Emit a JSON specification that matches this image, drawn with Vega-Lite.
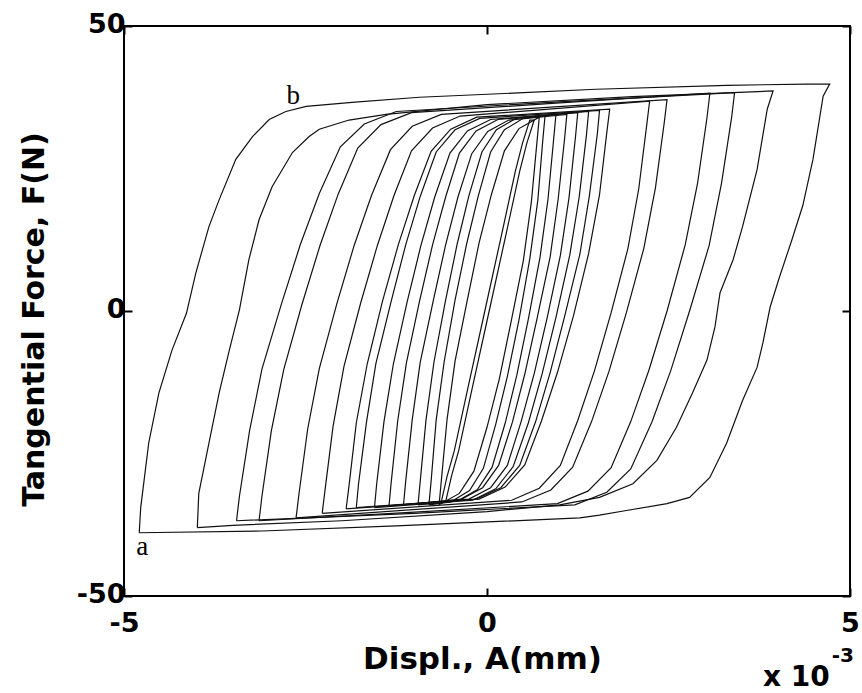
{
"$schema": "https://vega.github.io/schema/vega-lite/v6.json",
"width": 726, "height": 570,
"autosize": {"type": "none"},
"padding": {"left": 124, "top": 26, "right": 12, "bottom": 97},
"background": "white",
"config": {"view": {"stroke": "black", "strokeWidth": 2}},
"datasets": {
"loops": [
{"loop":1,"x":-4.79,"F":-38.9},{"loop":1,"x":-4.77,"F":-34.5},{"loop":1,"x":-4.66,"F":-23.2},{"loop":1,"x":-4.52,"F":-14.4},{"loop":1,"x":-4.34,"F":-6.9},{"loop":1,"x":-4.14,"F":-0.4},{"loop":1,"x":-4.01,"F":6.7},{"loop":1,"x":-3.83,"F":14.8},{"loop":1,"x":-3.69,"F":19.5},{"loop":1,"x":-3.46,"F":26.6},{"loop":1,"x":-3.23,"F":30.6},{"loop":1,"x":-3.0,"F":33.6},{"loop":1,"x":-2.77,"F":35.0},{"loop":1,"x":-2.49,"F":35.9},{"loop":1,"x":-1.86,"F":36.6},{"loop":1,"x":-0.93,"F":37.5},{"loop":1,"x":0.5,"F":38.3},{"loop":1,"x":1.5,"F":38.9},{"loop":1,"x":3.3,"F":39.6},{"loop":1,"x":4.4,"F":39.8},
{"loop":1,"x":4.72,"F":39.8},{"loop":1,"x":4.63,"F":37.7},{"loop":1,"x":4.49,"F":26.6},{"loop":1,"x":4.35,"F":18.5},{"loop":1,"x":4.2,"F":12.5},{"loop":1,"x":4.03,"F":6.0},{"loop":1,"x":3.9,"F":0.7},{"loop":1,"x":3.8,"F":-5.6},{"loop":1,"x":3.72,"F":-9.9},{"loop":1,"x":3.52,"F":-15.7},{"loop":1,"x":3.3,"F":-23.2},{"loop":1,"x":3.07,"F":-29.2},{"loop":1,"x":2.79,"F":-32.7},{"loop":1,"x":2.48,"F":-33.8},{"loop":1,"x":1.92,"F":-35.0},{"loop":1,"x":1.55,"F":-35.8},{"loop":1,"x":1.28,"F":-36.3},{"loop":1,"x":-1.25,"F":-37.7},{"loop":1,"x":-3.1,"F":-38.6},{"loop":1,"x":-4.79,"F":-38.9},
{"loop":2,"x":-3.99,"F":-38.0},{"loop":2,"x":-3.97,"F":-32.0},{"loop":2,"x":-3.83,"F":-23.2},{"loop":2,"x":-3.69,"F":-14.4},{"loop":2,"x":-3.55,"F":-6.9},{"loop":2,"x":-3.41,"F":0.2},{"loop":2,"x":-3.28,"F":9.0},{"loop":2,"x":-3.14,"F":16.0},{"loop":2,"x":-2.96,"F":21.8},{"loop":2,"x":-2.68,"F":27.8},{"loop":2,"x":-2.45,"F":30.6},{"loop":2,"x":-2.31,"F":31.9},{"loop":2,"x":-1.9,"F":33.5},{"loop":2,"x":-1.39,"F":34.5},{"loop":2,"x":0,"F":36.2},{"loop":2,"x":2.0,"F":37.6},
{"loop":2,"x":3.94,"F":38.6},{"loop":2,"x":3.86,"F":35.4},{"loop":2,"x":3.72,"F":24.8},{"loop":2,"x":3.52,"F":14.8},{"loop":2,"x":3.39,"F":9.0},{"loop":2,"x":3.21,"F":3.2},{"loop":2,"x":3.14,"F":-2.8},{"loop":2,"x":3.03,"F":-8.6},{"loop":2,"x":2.83,"F":-14.4},{"loop":2,"x":2.61,"F":-20.4},{"loop":2,"x":2.34,"F":-26.2},{"loop":2,"x":2.01,"F":-30.3},{"loop":2,"x":1.55,"F":-32.7},{"loop":2,"x":1.0,"F":-34.0},{"loop":2,"x":0,"F":-35.2},{"loop":2,"x":-2.0,"F":-36.8},{"loop":2,"x":-3.5,"F":-37.6},{"loop":2,"x":-3.99,"F":-38.0},
{"loop":3,"x":-3.45,"F":-36.8},{"loop":3,"x":-3.41,"F":-32.5},{"loop":3,"x":-3.27,"F":-21.0},{"loop":3,"x":-3.1,"F":-10.2},{"loop":3,"x":-2.83,"F":1.3},{"loop":3,"x":-2.57,"F":11.7},{"loop":3,"x":-2.31,"F":20.6},{"loop":3,"x":-2.02,"F":28.8},{"loop":3,"x":-1.69,"F":32.8},{"loop":3,"x":-1.25,"F":35.0},{"loop":3,"x":1.0,"F":36.7},
{"loop":3,"x":3.41,"F":38.3},{"loop":3,"x":3.37,"F":34.0},{"loop":3,"x":3.23,"F":22.4},{"loop":3,"x":3.06,"F":11.5},{"loop":3,"x":2.79,"F":0.0},{"loop":3,"x":2.53,"F":-10.5},{"loop":3,"x":2.27,"F":-19.5},{"loop":3,"x":1.98,"F":-27.7},{"loop":3,"x":1.65,"F":-31.8},{"loop":3,"x":1.21,"F":-34.0},{"loop":3,"x":-1.0,"F":-35.5},{"loop":3,"x":-3.45,"F":-36.8},
{"loop":4,"x":-3.14,"F":-36.8},{"loop":4,"x":-3.1,"F":-32.5},{"loop":4,"x":-2.97,"F":-21.0},{"loop":4,"x":-2.8,"F":-10.3},{"loop":4,"x":-2.55,"F":1.1},{"loop":4,"x":-2.3,"F":11.5},{"loop":4,"x":-2.05,"F":20.5},{"loop":4,"x":-1.78,"F":28.6},{"loop":4,"x":-1.46,"F":32.7},{"loop":4,"x":-1.04,"F":34.8},{"loop":4,"x":1.0,"F":36.5},
{"loop":4,"x":3.07,"F":38.2},{"loop":4,"x":3.03,"F":33.9},{"loop":4,"x":2.9,"F":22.4},{"loop":4,"x":2.73,"F":11.6},{"loop":4,"x":2.48,"F":0.0},{"loop":4,"x":2.23,"F":-10.4},{"loop":4,"x":1.98,"F":-19.4},{"loop":4,"x":1.71,"F":-27.5},{"loop":4,"x":1.39,"F":-31.6},{"loop":4,"x":0.97,"F":-33.8},{"loop":4,"x":-1.0,"F":-35.3},{"loop":4,"x":-3.14,"F":-36.8},
{"loop":5,"x":-2.63,"F":-36.3},{"loop":5,"x":-2.59,"F":-32.1},{"loop":5,"x":-2.47,"F":-20.7},{"loop":5,"x":-2.31,"F":-10.1},{"loop":5,"x":-2.07,"F":1.2},{"loop":5,"x":-1.83,"F":11.5},{"loop":5,"x":-1.59,"F":20.3},{"loop":5,"x":-1.33,"F":28.3},{"loop":5,"x":-1.03,"F":32.4},{"loop":5,"x":-0.63,"F":34.5},
{"loop":5,"x":2.48,"F":37.1},{"loop":5,"x":2.44,"F":32.9},{"loop":5,"x":2.32,"F":21.6},{"loop":5,"x":2.16,"F":11.0},{"loop":5,"x":1.92,"F":-0.3},{"loop":5,"x":1.68,"F":-10.6},{"loop":5,"x":1.44,"F":-19.4},{"loop":5,"x":1.18,"F":-27.4},{"loop":5,"x":0.88,"F":-31.4},{"loop":5,"x":0.48,"F":-33.5},{"loop":5,"x":-2.63,"F":-36.3},
{"loop":6,"x":-2.27,"F":-35.5},{"loop":6,"x":-2.23,"F":-31.3},{"loop":6,"x":-2.12,"F":-20.2},{"loop":6,"x":-1.97,"F":-9.7},{"loop":6,"x":-1.74,"F":1.4},{"loop":6,"x":-1.51,"F":11.5},{"loop":6,"x":-1.28,"F":20.3},{"loop":6,"x":-1.04,"F":28.1},{"loop":6,"x":-0.75,"F":32.1},{"loop":6,"x":-0.37,"F":34.2},
{"loop":6,"x":2.24,"F":36.8},{"loop":6,"x":2.2,"F":32.6},{"loop":6,"x":2.09,"F":21.4},{"loop":6,"x":1.94,"F":10.9},{"loop":6,"x":1.71,"F":-0.3},{"loop":6,"x":1.48,"F":-10.5},{"loop":6,"x":1.25,"F":-19.2},{"loop":6,"x":1.01,"F":-27.1},{"loop":6,"x":0.72,"F":-31.1},{"loop":6,"x":0.34,"F":-33.2},{"loop":6,"x":-2.27,"F":-35.5},
{"loop":7,"x":-1.94,"F":-34.7},{"loop":7,"x":-1.9,"F":-30.6},{"loop":7,"x":-1.8,"F":-19.6},{"loop":7,"x":-1.65,"F":-9.3},{"loop":7,"x":-1.44,"F":1.7},{"loop":7,"x":-1.22,"F":11.7},{"loop":7,"x":-1.0,"F":20.3},{"loop":7,"x":-0.77,"F":28.0},{"loop":7,"x":-0.5,"F":31.9},{"loop":7,"x":-0.14,"F":34.0},
{"loop":7,"x":1.69,"F":35.4},{"loop":7,"x":1.65,"F":31.3},{"loop":7,"x":1.55,"F":20.4},{"loop":7,"x":1.4,"F":10.1},{"loop":7,"x":1.19,"F":-0.9},{"loop":7,"x":0.97,"F":-10.8},{"loop":7,"x":0.75,"F":-19.3},{"loop":7,"x":0.52,"F":-27.0},{"loop":7,"x":0.25,"F":-30.9},{"loop":7,"x":-0.11,"F":-33.0},{"loop":7,"x":-1.94,"F":-34.7},
{"loop":8,"x":-1.8,"F":-34.5},{"loop":8,"x":-1.77,"F":-30.4},{"loop":8,"x":-1.66,"F":-19.5},{"loop":8,"x":-1.53,"F":-9.2},{"loop":8,"x":-1.32,"F":1.7},{"loop":8,"x":-1.12,"F":11.6},{"loop":8,"x":-0.92,"F":20.1},{"loop":8,"x":-0.7,"F":27.9},{"loop":8,"x":-0.44,"F":31.8},{"loop":8,"x":-0.1,"F":33.8},
{"loop":8,"x":1.55,"F":35.2},{"loop":8,"x":1.52,"F":31.1},{"loop":8,"x":1.41,"F":20.2},{"loop":8,"x":1.28,"F":10.0},{"loop":8,"x":1.07,"F":-0.9},{"loop":8,"x":0.87,"F":-10.8},{"loop":8,"x":0.67,"F":-19.4},{"loop":8,"x":0.45,"F":-27.1},{"loop":8,"x":0.19,"F":-31.0},{"loop":8,"x":-0.15,"F":-33.0},{"loop":8,"x":-1.8,"F":-34.5},
{"loop":9,"x":-1.55,"F":-34.5},{"loop":9,"x":-1.52,"F":-30.4},{"loop":9,"x":-1.42,"F":-19.5},{"loop":9,"x":-1.29,"F":-9.3},{"loop":9,"x":-1.1,"F":1.6},{"loop":9,"x":-0.91,"F":11.5},{"loop":9,"x":-0.72,"F":20.0},{"loop":9,"x":-0.51,"F":27.7},{"loop":9,"x":-0.27,"F":31.6},{"loop":9,"x":0.05,"F":33.6},
{"loop":9,"x":1.4,"F":35.0},{"loop":9,"x":1.37,"F":30.9},{"loop":9,"x":1.27,"F":20.0},{"loop":9,"x":1.14,"F":9.8},{"loop":9,"x":0.95,"F":-1.1},{"loop":9,"x":0.76,"F":-11.0},{"loop":9,"x":0.57,"F":-19.6},{"loop":9,"x":0.36,"F":-27.3},{"loop":9,"x":0.12,"F":-31.2},{"loop":9,"x":-0.2,"F":-33.2},{"loop":9,"x":-1.55,"F":-34.5},
{"loop":10,"x":-1.35,"F":-34.2},{"loop":10,"x":-1.32,"F":-30.1},{"loop":10,"x":-1.23,"F":-19.3},{"loop":10,"x":-1.11,"F":-9.1},{"loop":10,"x":-0.93,"F":1.7},{"loop":10,"x":-0.75,"F":11.6},{"loop":10,"x":-0.57,"F":20.0},{"loop":10,"x":-0.38,"F":27.7},{"loop":10,"x":-0.15,"F":31.6},{"loop":10,"x":0.15,"F":33.6},
{"loop":10,"x":1.25,"F":34.8},{"loop":10,"x":1.22,"F":30.7},{"loop":10,"x":1.13,"F":19.9},{"loop":10,"x":1.01,"F":9.7},{"loop":10,"x":0.83,"F":-1.1},{"loop":10,"x":0.65,"F":-11.0},{"loop":10,"x":0.47,"F":-19.4},{"loop":10,"x":0.28,"F":-27.1},{"loop":10,"x":0.05,"F":-31.0},{"loop":10,"x":-0.25,"F":-33.0},{"loop":10,"x":-1.35,"F":-34.2},
{"loop":11,"x":-1.15,"F":-34.0},{"loop":11,"x":-1.12,"F":-29.9},{"loop":11,"x":-1.03,"F":-19.1},{"loop":11,"x":-0.92,"F":-9.0},{"loop":11,"x":-0.74,"F":1.8},{"loop":11,"x":-0.57,"F":11.6},{"loop":11,"x":-0.4,"F":20.0},{"loop":11,"x":-0.21,"F":27.6},{"loop":11,"x":0.01,"F":31.5},{"loop":11,"x":0.3,"F":33.5},
{"loop":11,"x":1.1,"F":34.5},{"loop":11,"x":1.07,"F":30.4},{"loop":11,"x":0.98,"F":19.6},{"loop":11,"x":0.87,"F":9.5},{"loop":11,"x":0.69,"F":-1.3},{"loop":11,"x":0.52,"F":-11.1},{"loop":11,"x":0.35,"F":-19.5},{"loop":11,"x":0.16,"F":-27.1},{"loop":11,"x":-0.06,"F":-31.0},{"loop":11,"x":-0.35,"F":-33.0},{"loop":11,"x":-1.15,"F":-34.0},
{"loop":12,"x":-0.95,"F":-34.0},{"loop":12,"x":-0.92,"F":-29.9},{"loop":12,"x":-0.84,"F":-19.1},{"loop":12,"x":-0.73,"F":-8.9},{"loop":12,"x":-0.57,"F":1.9},{"loop":12,"x":-0.41,"F":11.8},{"loop":12,"x":-0.25,"F":20.2},{"loop":12,"x":-0.07,"F":27.9},{"loop":12,"x":0.13,"F":31.8},{"loop":12,"x":0.4,"F":33.8},
{"loop":12,"x":0.95,"F":34.5},{"loop":12,"x":0.92,"F":30.4},{"loop":12,"x":0.84,"F":19.6},{"loop":12,"x":0.73,"F":9.4},{"loop":12,"x":0.57,"F":-1.4},{"loop":12,"x":0.41,"F":-11.3},{"loop":12,"x":0.25,"F":-19.7},{"loop":12,"x":0.07,"F":-27.4},{"loop":12,"x":-0.13,"F":-31.3},{"loop":12,"x":-0.4,"F":-33.3},{"loop":12,"x":-0.95,"F":-34.0},
{"loop":13,"x":-0.8,"F":-34.0},{"loop":13,"x":-0.77,"F":-29.9},{"loop":13,"x":-0.7,"F":-19.1},{"loop":13,"x":-0.59,"F":-8.9},{"loop":13,"x":-0.44,"F":1.9},{"loop":13,"x":-0.28,"F":11.8},{"loop":13,"x":-0.12,"F":20.2},{"loop":13,"x":0.05,"F":27.9},{"loop":13,"x":0.24,"F":31.8},{"loop":13,"x":0.5,"F":33.8},
{"loop":13,"x":0.8,"F":34.3},{"loop":13,"x":0.77,"F":30.2},{"loop":13,"x":0.7,"F":19.4},{"loop":13,"x":0.59,"F":9.2},{"loop":13,"x":0.44,"F":-1.6},{"loop":13,"x":0.28,"F":-11.5},{"loop":13,"x":0.12,"F":-19.9},{"loop":13,"x":-0.05,"F":-27.6},{"loop":13,"x":-0.24,"F":-31.5},{"loop":13,"x":-0.5,"F":-33.5},{"loop":13,"x":-0.8,"F":-34.0},
{"loop":14,"x":-0.66,"F":-34.0},{"loop":14,"x":-0.63,"F":-29.9},{"loop":14,"x":-0.55,"F":-19.0},{"loop":14,"x":-0.44,"F":-8.8},{"loop":14,"x":-0.27,"F":2.0},{"loop":14,"x":-0.11,"F":11.9},{"loop":14,"x":0.06,"F":20.4},{"loop":14,"x":0.24,"F":28.1},{"loop":14,"x":0.44,"F":32.0},
{"loop":14,"x":0.72,"F":34.0},{"loop":14,"x":0.69,"F":29.9},{"loop":14,"x":0.61,"F":19.0},{"loop":14,"x":0.5,"F":8.8},{"loop":14,"x":0.33,"F":-2.0},{"loop":14,"x":0.17,"F":-11.9},{"loop":14,"x":0.0,"F":-20.4},{"loop":14,"x":-0.18,"F":-28.1},{"loop":14,"x":-0.38,"F":-32.0},{"loop":14,"x":-0.66,"F":-34.0},
{"loop":15,"x":-0.63,"F":-33.5},{"loop":15,"x":-0.55,"F":-29.0},{"loop":15,"x":-0.45,"F":-24.5},{"loop":15,"x":-0.28,"F":-14.5},{"loop":15,"x":-0.03,"F":0},{"loop":15,"x":0.22,"F":14.5},{"loop":15,"x":0.39,"F":24.5},{"loop":15,"x":0.49,"F":29.5},{"loop":15,"x":0.59,"F":33.5},
{"loop":15,"x":0.65,"F":33.5},{"loop":15,"x":0.55,"F":29.5},{"loop":15,"x":0.45,"F":24.5},{"loop":15,"x":0.28,"F":14.5},{"loop":15,"x":0.03,"F":0},{"loop":15,"x":-0.22,"F":-14.5},{"loop":15,"x":-0.39,"F":-24.5},{"loop":15,"x":-0.49,"F":-29.0},{"loop":15,"x":-0.57,"F":-33.5},{"loop":15,"x":-0.63,"F":-33.5}
],
"points": [
{"label":"a","x":-4.75,"F":-41.4},
{"label":"b","x":-2.67,"F":37.7}
],
"mult": [{"label":"x 10","x":4.26,"F":-64.3}],
"expo": [{"label":"-3","x":4.9,"F":-60.6}]
},
"layer": [
{
"data": {"name": "loops"},
"mark": {"type": "line", "color": "#111111", "strokeWidth": 1.2},
"encoding": {
"x": {"field": "x", "type": "quantitative",
 "scale": {"domain": [-5, 5], "nice": false, "zero": false},
 "axis": {"orient": "bottom", "values": [-5, 0, 5], "labelExpr": "'' + datum.value", "labelFlush": false, "labelOverlap": false,
  "grid": false, "domain": false, "ticks": true, "tickSize": -8, "tickWidth": 2, "tickColor": "black",
  "labelPadding": 22, "labelFont": "DejaVu Sans", "labelFontSize": 27, "labelFontWeight": "bold", "labelColor": "black",
  "title": "Displ., A(mm)", "titleFont": "DejaVu Sans", "titleFontSize": 31, "titleFontWeight": "bold", "titleColor": "black",
  "titleBaseline": "alphabetic", "titleX": 358, "titleY": 72}},
"y": {"field": "F", "type": "quantitative",
 "scale": {"domain": [-50, 50], "nice": false, "zero": false},
 "axis": {"orient": "left", "values": [-50, 0, 50], "labelExpr": "'' + datum.value", "labelFlush": false, "labelOverlap": false,
  "grid": false, "domain": false, "ticks": true, "tickSize": -8, "tickWidth": 2, "tickColor": "black",
  "labelPadding": 7, "labelOffset": -2, "labelFont": "DejaVu Sans", "labelFontSize": 27, "labelFontWeight": "bold", "labelColor": "black",
  "title": "Tangential Force, F(N)", "titleFont": "DejaVu Sans", "titleFontSize": 30, "titleFontWeight": "bold", "titleColor": "black",
  "titleAngle": -90, "titleBaseline": "alphabetic", "titleX": -81, "titleY": 293}},
"detail": {"field": "loop", "type": "nominal"},
"order": {"value": null}
}
},
{
"data": {"name": "points"},
"mark": {"type": "text", "font": "Liberation Serif", "fontSize": 27, "color": "black", "align": "center", "baseline": "middle"},
"encoding": {
"x": {"field": "x", "type": "quantitative", "scale": {"domain": [-5, 5], "nice": false, "zero": false},
 "axis": {"orient": "top", "values": [-5, 0, 5], "labels": false, "title": null, "grid": false, "domain": false, "tickSize": -8, "tickWidth": 2, "tickColor": "black"}},
"y": {"field": "F", "type": "quantitative", "scale": {"domain": [-50, 50], "nice": false, "zero": false},
 "axis": {"orient": "right", "values": [-50, 0, 50], "labels": false, "title": null, "grid": false, "domain": false, "tickSize": -8, "tickWidth": 2, "tickColor": "black"}},
"text": {"field": "label", "type": "nominal"}
}
},
{
"data": {"name": "mult"},
"mark": {"type": "text", "font": "DejaVu Sans", "fontSize": 28, "fontWeight": "bold", "color": "black", "align": "center", "baseline": "middle"},
"encoding": {
"x": {"field": "x", "type": "quantitative", "scale": {"domain": [-5, 5], "nice": false, "zero": false}, "axis": null},
"y": {"field": "F", "type": "quantitative", "scale": {"domain": [-50, 50], "nice": false, "zero": false}, "axis": null},
"text": {"field": "label", "type": "nominal"}
}
},
{
"data": {"name": "expo"},
"mark": {"type": "text", "font": "DejaVu Sans", "fontSize": 20, "fontWeight": "bold", "color": "black", "align": "center", "baseline": "middle"},
"encoding": {
"x": {"field": "x", "type": "quantitative", "scale": {"domain": [-5, 5], "nice": false, "zero": false}, "axis": null},
"y": {"field": "F", "type": "quantitative", "scale": {"domain": [-50, 50], "nice": false, "zero": false}, "axis": null},
"text": {"field": "label", "type": "nominal"}
}
}
],
"resolve": {"axis": {"x": "independent", "y": "independent"}}
}
